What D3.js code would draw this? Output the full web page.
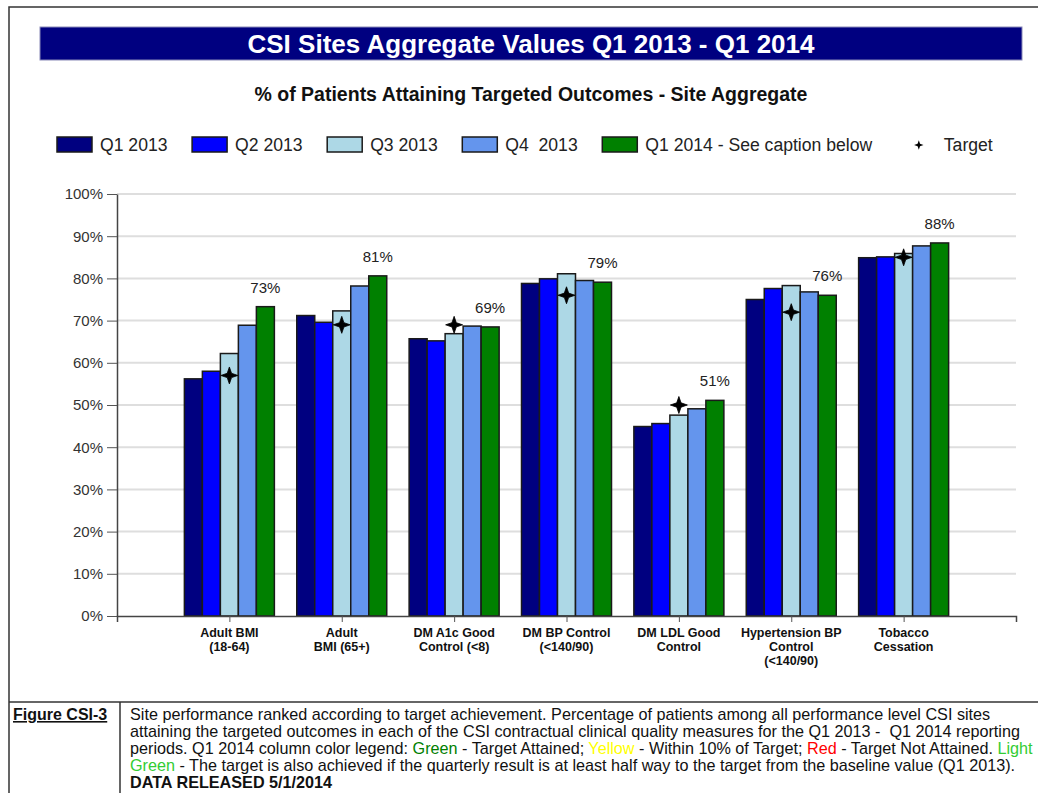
<!DOCTYPE html>
<html><head><meta charset="utf-8">
<script src="https://cdn.jsdelivr.net/npm/d3@7"></script>
<style>
html,body{margin:0;padding:0;background:#fff;}
svg{display:block;font-family:"Liberation Sans",Arial,sans-serif;}
</style></head>
<body>
<svg id="chart" width="1038" height="793"></svg>
<script>
// ---------- data ----------
const categories = ["Adult BMI\n(18-64)", "Adult\nBMI (65+)", "DM A1c Good\nControl (<8)", "DM BP Control\n(<140/90)", "DM LDL Good\nControl", "Hypertension BP\nControl\n(<140/90)", "Tobacco\nCessation"];
const seriesNames = ["Q1 2013", "Q2 2013", "Q3 2013", "Q4  2013", "Q1 2014 - See caption below"];
const q1_2013 = [56.2, 71.2, 65.7, 78.8, 44.9, 75.0, 84.9];
const q2_2013 = [58.0, 69.6, 65.2, 79.9, 45.6, 77.6, 85.1];
const q3_2013 = [62.2, 72.3, 66.9, 81.1, 47.6, 78.3, 85.9];
const q4_2013 = [68.9, 78.2, 68.7, 79.5, 49.1, 76.8, 87.7];
const q1_2014 = [73.3, 80.6, 68.5, 79.1, 51.1, 76.0, 88.4];
const targets = [57, 69, 69, 76, 50, 72, 85];
const yTicks = [0, 10, 20, 30, 40, 50, 60, 70, 80, 90, 100];
const titleText = "CSI Sites Aggregate Values Q1 2013 - Q1 2014";
const subtitleText = "% of Patients Attaining Targeted Outcomes - Site Aggregate";
const targetLabel = "Target";
const figureLabel = "Figure CSI-3";
const captionLines = [
  [["Site performance ranked according to target achievement. Percentage of patients among all performance level CSI sites", null]],
  [["attaining the targeted outcomes in each of the CSI contractual clinical quality measures for the Q1 2013 -  Q1 2014 reporting", null]],
  [["periods. Q1 2014 column color legend: ", null], ["Green", "#008000"], [" - Target Attained; ", null], ["Yellow", "#ffff00"], [" - Within 10% of Target; ", null], ["Red", "#ff0000"], [" - Target Not Attained. ", null], ["Light", "#33cc33"]],
  [["Green", "#33cc33"], [" - The target is also achieved if the quarterly result is at least half way to the target from the baseline value (Q1 2013).", null]],
  [["DATA RELEASED 5/1/2014", "bold"]]
];

const seriesValues = [q1_2013, q2_2013, q3_2013, q4_2013, q1_2014];
const colors = ["#000080", "#0000ff", "#add8e6", "#6495ed", "#008000"];

// ---------- layout ----------
const svg = d3.select("#chart");
const plot = {left: 117, right: 1016, top: 194, bottom: 616};

// frame
svg.append("path")
  .attr("d", `M9,793V7H1038`)
  .attr("fill", "none").attr("stroke", "#333").attr("stroke-width", 1.5);

// banner
svg.append("rect").attr("x", 40).attr("y", 27).attr("width", 982).attr("height", 33)
  .attr("fill", "#000080").attr("stroke", "#8a8ab8").attr("stroke-width", 1);
svg.append("text").attr("x", 531).attr("y", 52.5).attr("text-anchor", "middle")
  .attr("fill", "#fff").attr("font-weight", "bold").attr("font-size", 26).text(titleText);
svg.append("text").attr("x", 531).attr("y", 101).attr("text-anchor", "middle")
  .attr("fill", "#111").attr("font-weight", "bold").attr("font-size", 19.5).text(subtitleText);

// scales
const x = d3.scalePoint().domain(categories).range([plot.left, plot.right]).padding(1);
const xInner = d3.scaleBand().domain(d3.range(seriesValues.length)).range([-45, 45]).padding(0);
const y = d3.scaleLinear().domain([0, 100]).range([plot.bottom, plot.top]);

// 4-point star symbol
const star4 = {
  draw(ctx, size) {
    const R = Math.sqrt(size), r = R * 0.36;
    for (let i = 0; i < 8; i++) {
      const a = i * Math.PI / 4 - Math.PI / 2;
      const rad = i % 2 === 0 ? R : r;
      const px = Math.cos(a) * rad, py = Math.sin(a) * rad;
      if (i === 0) ctx.moveTo(px, py); else ctx.lineTo(px, py);
    }
    ctx.closePath();
  }
};

// gridlines
svg.append("g").selectAll("line").data(yTicks.slice(1)).join("line")
  .attr("x1", plot.left).attr("x2", plot.right)
  .attr("y1", d => y(d)).attr("y2", d => y(d))
  .attr("stroke", "#dedede").attr("stroke-width", 2);

// y axis
const yAxis = svg.append("g").attr("transform", `translate(${plot.left},0)`)
  .call(d3.axisLeft(y).tickValues(yTicks).tickFormat(d => d + "%").tickSize(10).tickSizeOuter(0).tickPadding(4));
yAxis.selectAll("text").attr("font-size", 15).attr("fill", "#333").attr("font-family", "Liberation Sans, Arial, sans-serif");
yAxis.selectAll("line").attr("stroke", "#555");
yAxis.select(".domain").attr("stroke", "#444").attr("stroke-width", 1.5);

// bars
const groups = svg.append("g").selectAll("g").data(categories).join("g")
  .attr("transform", d => `translate(${x(d)},0)`);
groups.selectAll("rect").data((d, ci) => seriesValues.map((s, si) => ({si, v: s[ci]}))).join("rect")
  .attr("x", d => xInner(d.si)).attr("width", xInner.bandwidth())
  .attr("y", d => y(d.v)).attr("height", d => y(0) - y(d.v))
  .attr("fill", d => colors[d.si]).attr("stroke", "#1a1a1a").attr("stroke-width", 1.5);

// value labels (Q1 2014)
groups.append("text")
  .attr("x", (d, ci) => xInner(4) + xInner.bandwidth() / 2)
  .attr("y", (d, ci) => y(q1_2014[ci]) - 14)
  .attr("text-anchor", "middle").attr("font-size", 15).attr("fill", "#222")
  .text((d, ci) => Math.round(q1_2014[ci]) + "%");

// targets
groups.append("path")
  .attr("transform", (d, ci) => `translate(${xInner(2) + xInner.bandwidth() / 2},${y(targets[ci])})`)
  .attr("d", d3.symbol().type(star4).size(72))
  .attr("fill", "#000").attr("stroke", "#000").attr("stroke-width", 0.8).attr("stroke-linejoin", "round");

// x axis
const xAxis = svg.append("g").attr("transform", `translate(0,${plot.bottom})`)
  .call(d3.axisBottom(x).tickFormat("").tickSize(6).tickSizeOuter(6));
xAxis.selectAll("line").attr("stroke", "#555");
xAxis.select(".domain").attr("stroke", "#444").attr("stroke-width", 1.5);

// category labels
const catLabels = svg.append("g").selectAll("text").data(categories).join("text")
  .attr("x", d => x(d)).attr("y", 637)
  .attr("text-anchor", "middle").attr("font-size", 12.5).attr("font-weight", "bold").attr("fill", "#111");
catLabels.selectAll("tspan").data(d => d.split("\n")).join("tspan")
  .attr("x", function() { return this.parentNode.getAttribute("x"); })
  .attr("dy", (d, i) => i === 0 ? 0 : 14).text(d => d);

// legend
const legend = svg.append("g");
let lx = 57;
seriesNames.forEach((name, i) => {
  legend.append("rect").attr("x", lx).attr("y", 137).attr("width", 35).attr("height", 15)
    .attr("fill", colors[i]).attr("stroke", "#1a1a1a").attr("stroke-width", 1.5);
  const t = legend.append("text").attr("x", lx + 43).attr("y", 151).attr("font-size", 17.6)
    .attr("fill", "#222").style("white-space", "pre").text(name);
  lx += 43 + t.node().getComputedTextLength() + 24.6;
});
legend.append("path").attr("transform", `translate(${lx + 22},145)`)
  .attr("d", d3.symbol().type(star4).size(22)).attr("fill", "#000");
legend.append("text").attr("x", lx + 47).attr("y", 151).attr("font-size", 17.6).attr("fill", "#222").text(targetLabel);

// caption table
svg.append("line").attr("x1", 9).attr("x2", 1038).attr("y1", 702).attr("y2", 702).attr("stroke", "#333").attr("stroke-width", 1.5);
svg.append("line").attr("x1", 120).attr("x2", 120).attr("y1", 702).attr("y2", 793).attr("stroke", "#333").attr("stroke-width", 1.5);
svg.append("text").attr("x", 13).attr("y", 720).attr("font-size", 16).attr("font-weight", "bold")
  .attr("text-decoration", "underline").attr("fill", "#111").text(figureLabel);
const cap = svg.append("g");
captionLines.forEach((parts, li) => {
  const t = cap.append("text").attr("x", 130).attr("y", 720 + li * 17).attr("font-size", 16.2)
    .attr("fill", "#111").style("white-space", "pre");
  parts.forEach(([s, c]) => {
    const ts = t.append("tspan").text(s);
    if (c === "bold") ts.attr("font-weight", "bold");
    else if (c) ts.attr("fill", c);
  });
});
</script>
</body></html>
